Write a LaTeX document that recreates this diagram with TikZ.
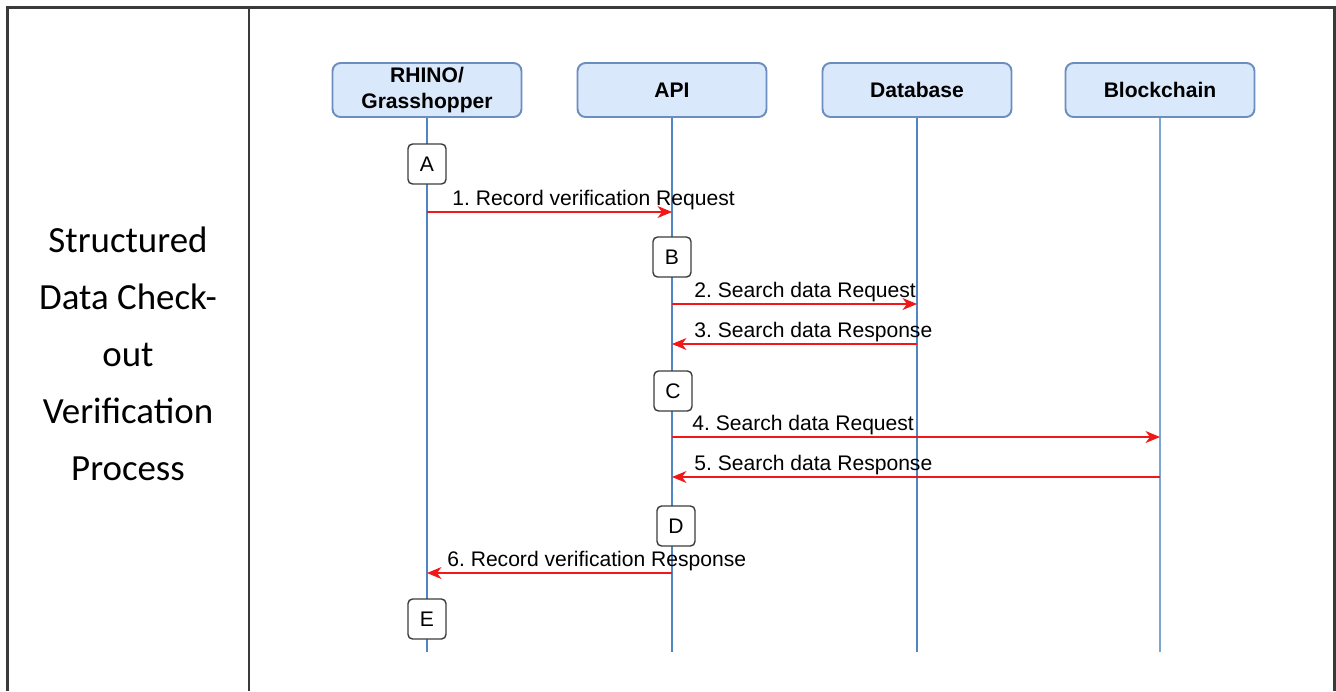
\documentclass[tikz,border=0pt]{standalone}
\usepackage{fontspec}
\setmainfont{Liberation Sans}
\newfontfamily\cellfont{Carlito}
\usetikzlibrary{arrows.meta}
\frenchspacing
\definecolor{hdrfill}{HTML}{DAE8FC}
\definecolor{hdrline}{HTML}{6C8EBF}
\definecolor{lifeblue}{HTML}{4F86C2}
\definecolor{lifelight}{HTML}{7AA6D0}
\definecolor{tblline}{HTML}{3A3A3A}
\definecolor{actline}{HTML}{3C3C3C}
\definecolor{msgred}{HTML}{F01818}
\tikzset{
  hdr/.style={draw=hdrline, fill=hdrfill, line width=1.1pt, rounded corners=0.16cm,
    minimum width=3.78cm, minimum height=1.08cm, inner sep=0pt,
    font=\fontsize{12}{14.8}\selectfont\bfseries, align=center},
  life/.style={draw=lifeblue, line width=0.85pt},
  actbox/.style={draw=actline, fill=white, line width=0.8pt, rounded corners=0.09cm,
    minimum width=0.76cm, minimum height=0.8cm, inner sep=0pt,
    font=\fontsize{12}{14}\selectfont},
  msg/.style={draw=msgred, line width=0.6pt, -{Stealth[length=2.9mm,width=2.4mm,inset=0.9mm]}},
  msglabel/.style={anchor=base west, inner sep=0pt, font=\fontsize{12}{14}\selectfont},
  tbl/.style={draw=tblline, line width=1.4pt}
}
\begin{document}
\begin{tikzpicture}[x=0.02cm, y=-0.02cm]
\useasboundingbox (0,0) rectangle (1336,691);
% table
\coordinate (tTL) at (7.5,7.5);
\coordinate (tTR) at (1334.5,7.5);
\coordinate (tBL) at (7.5,691);
\coordinate (tBR) at (1334.5,691);
\coordinate (tDT) at (249,7.5);
\coordinate (tDB) at (249,691);
\draw[tbl] (tBL) -- (tTL) -- (tTR) -- (tBR);
\draw[tbl] (tDT) -- (tDB);
% left cell text
\node[font=\cellfont\fontsize{21}{32.4}\selectfont, align=center, inner sep=0pt] (title) at (128,354)
  {Structured\\Data Check-\\out\\Verification\\Process};
% headers
\node[hdr] (rh) at (427,90) {RHINO/\\Grasshopper};
\node[hdr] (api) at (672,90) {API};
\node[hdr] (db) at (917,90) {Database};
\node[hdr] (bc) at (1160,90) {Blockchain};
% lifeline ends
\coordinate (rhE) at (427,652);
\coordinate (apiE) at (672,652);
\coordinate (dbE) at (917,652);
\coordinate (bcE) at (1160,652);
\draw[life] (rh.south) -- (rhE);
\draw[life] (api.south) -- (apiE);
\draw[life] (db.south) -- (dbE);
\draw[life, draw=lifelight] (bc.south) -- (bcE);
% activation boxes
\node[actbox] (A) at (427,164) {A};
\node[actbox] (B) at (672,257) {B};
\node[actbox] (C) at (673,391) {C};
\node[actbox] (D) at (676,526) {D};
\node[actbox] (E) at (427,619) {E};
% message end points
\coordinate (m1a) at (427,212); \coordinate (m1b) at (672,212);
\coordinate (m2a) at (672,304); \coordinate (m2b) at (917,304);
\coordinate (m3a) at (917,344); \coordinate (m3b) at (672,344);
\coordinate (m4a) at (672,437); \coordinate (m4b) at (1160,437);
\coordinate (m5a) at (1160,477); \coordinate (m5b) at (672,477);
\coordinate (m6a) at (672,573); \coordinate (m6b) at (427,573);
\draw[msg] (m1a) -- (m1b);
\draw[msg] (m2a) -- (m2b);
\draw[msg] (m3a) -- (m3b);
\draw[msg] (m4a) -- (m4b);
\draw[msg] (m5a) -- (m5b);
\draw[msg] (m6a) -- (m6b);
% labels
\node[msglabel] (l1) at (452,205) {1. Record verification Request};
\node[msglabel] (l2) at (694,297) {2. Search data Request};
\node[msglabel] (l3) at (694,337) {3. Search data Response};
\node[msglabel] (l4) at (692,430) {4. Search data Request};
\node[msglabel] (l5) at (694,470) {5. Search data Response};
\node[msglabel] (l6) at (447,566) {6. Record verification Response};
\end{tikzpicture}
\end{document}
